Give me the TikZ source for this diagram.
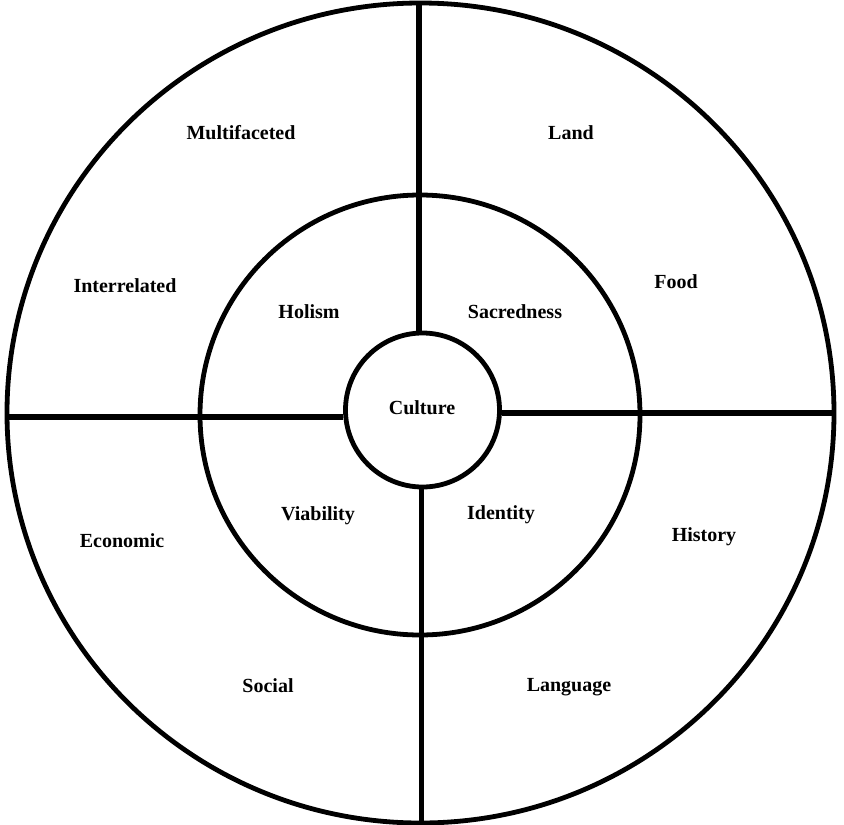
\documentclass[tikz,border=0pt]{standalone}
\usepackage{fontspec}
\setmainfont{Liberation Serif}
\begin{document}
\begin{tikzpicture}[x=1pt,y=-1pt,
  ring/.style={line width=4.8pt,draw=black},
  spoke/.style={line width=5.2pt,draw=black},
  lbl/.style={font=\bfseries\fontsize{20}{23}\selectfont,inner sep=0pt,anchor=center}]
\useasboundingbox (0,0) rectangle (844,825);
% rings
\draw[ring] (420.5,413) ellipse [x radius=413.5, y radius=410];
\draw[ring] (420,415) circle [radius=220];
\node[ring,circle,minimum size=154pt,inner sep=0pt] (culture) at (422.5,410) {};
% spoke end points on the outer ring
\coordinate (top) at (419,3);
\coordinate (bottom) at (421.5,823);
\coordinate (left) at (7,417);
\coordinate (right) at (834,413);
\draw[spoke] (top) -- (culture.north -| top);
\draw[spoke] (culture.south -| bottom) -- (bottom);
\draw[spoke] (left) -- (culture.west |- left);
\draw[spoke] (culture.east |- right) -- (right);
% labels
\node[lbl] (c) at (422,408) {Culture};
\node[lbl] (mf) at (241,133) {Multifaceted};
\node[lbl] (land) at (571,133) {Land};
\node[lbl] (ir) at (125,286) {Interrelated};
\node[lbl] (food) at (676,282) {Food};
\node[lbl] (hol) at (309,312) {Holism};
\node[lbl] (sac) at (515,312) {Sacredness};
\node[lbl] (via) at (318,516) {Viability};
\node[lbl] (id) at (501,515) {Identity};
\node[lbl] (eco) at (122,541) {Economic};
\node[lbl] (his) at (704,537) {History};
\node[lbl] (soc) at (268,686) {Social};
\node[lbl] (lang) at (569,687) {Language};
\end{tikzpicture}
\end{document}
